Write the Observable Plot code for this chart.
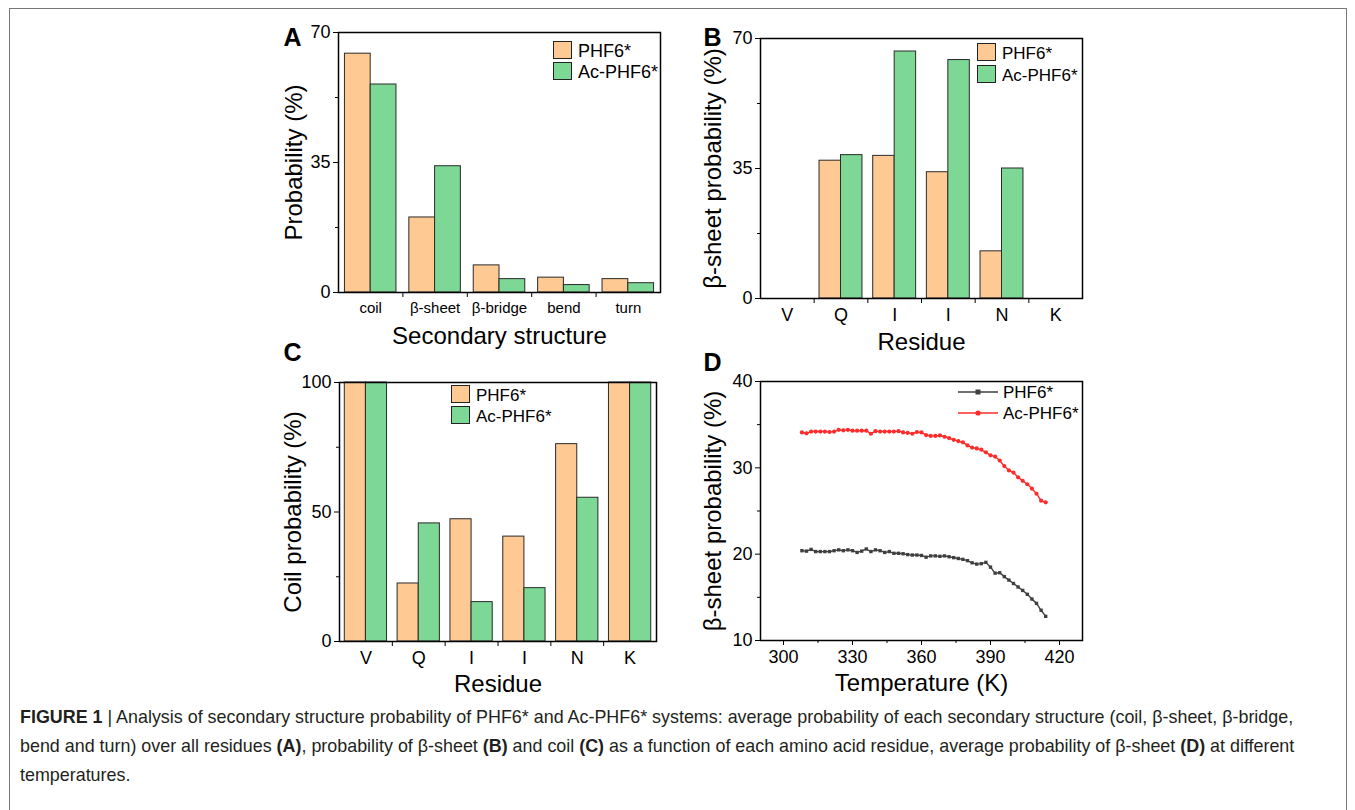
<!DOCTYPE html>
<html><head><meta charset="utf-8">
<script src="https://cdn.jsdelivr.net/npm/d3@7"></script>
<script src="https://cdn.jsdelivr.net/npm/@observablehq/plot@0.6"></script>
<style>
html,body{margin:0;padding:0;background:#fff;}
body{font-family:"Liberation Sans",Arial,Helvetica,sans-serif;color:#000;}
#page{position:relative;width:1355px;height:810px;overflow:hidden;background:#fff;}
.border{position:absolute;left:9px;top:8px;width:1336px;height:830px;border:1px solid #777;}
.panel{position:absolute;}
.sw{position:absolute;box-sizing:border-box;border:1px solid #222;}
.lt{position:absolute;transform:translateY(-50%);white-space:nowrap;line-height:1;}
#caption{position:absolute;left:20px;top:703px;width:1325px;font-size:17.9px;line-height:29px;color:#231f20;white-space:nowrap;}
</style>
</head><body>
<div id="page">
  <div class="border"></div>
  <div id="pA" class="panel" style="left:260px;top:0px"></div>
  <div id="pB" class="panel" style="left:680px;top:0px"></div>
  <div id="pC" class="panel" style="left:260px;top:340px"></div>
  <div id="pD" class="panel" style="left:680px;top:340px"></div>
  <div id="legends"></div>
  <div id="caption"><b>FIGURE 1</b> | Analysis of secondary structure probability of PHF6* and Ac-PHF6* systems: average probability of each secondary structure (coil, β-sheet, β-bridge,<br>bend and turn) over all residues <b>(A)</b>, probability of β-sheet <b>(B)</b> and coil <b>(C)</b> as a function of each amino acid residue, average probability of β-sheet <b>(D)</b> at different<br>temperatures.</div>
</div>
<script>
// ---------------- data ----------------
const seriesNames = ["PHF6*", "Ac-PHF6*"];

// Panel A
const structCats = ["coil", "β-sheet", "β-bridge", "bend", "turn"];
const structPHF6 = [64.3, 20.2, 7.3, 4.0, 3.6];
const structAc   = [56.0, 34.0, 3.6, 2.0, 2.5];

// Panels B & C
const residues  = ["V", "Q", "I", "I", "N", "K"];
const sheetPHF6 = [0, 37.1, 38.4, 34.0, 12.7, 0];
const sheetAc   = [0, 38.6, 66.5, 64.2, 35.0, 0];
const coilPHF6  = [100, 22.4, 47.2, 40.5, 76.2, 100];
const coilAc    = [100, 45.6, 15.2, 20.6, 55.5, 100];

// Panel D
const temps = [308,310,312,314,316,318,320,322,324,326,328,330,332,334,336,338,340,342,344,346,348,350,352,354,356,358,360,362,364,366,368,370,372,374,376,378,380,382,384,386,388,390,392,394,396,398,400,402,404,406,408,410,412,414];
const tempPHF6 = [20.4,20.35,20.55,20.3,20.3,20.3,20.3,20.4,20.5,20.4,20.5,20.4,20.2,20.35,20.6,20.3,20.5,20.4,20.2,20.3,20.1,20.1,20.05,19.95,19.9,19.9,19.85,19.65,19.8,19.8,19.75,
  19.8,19.7,19.6,19.5,19.4,19.25,19.0,18.85,18.9,19.05,18.5,17.8,17.85,17.4,17.0,16.6,16.2,15.8,15.35,14.8,14.3,13.5,12.8];
const tempAc = [34.1,34.0,34.2,34.2,34.2,34.2,34.15,34.2,34.4,34.35,34.4,34.3,34.3,34.3,34.3,33.95,34.25,34.2,34.2,34.2,34.2,34.25,34.1,34.05,33.95,34.15,34.1,33.8,33.7,33.7,33.75,
  33.6,33.45,33.25,33.1,32.95,32.6,32.35,32.25,32.1,31.8,31.45,31.3,30.85,30.2,29.7,29.45,28.9,28.5,28.1,27.6,27.0,26.2,26.0];

const tickA = [0, 35, 70], minorA = [17.5, 52.5];
const tickC = [0, 50, 100], minorC = [25, 75];
const tickDx = [300, 330, 360, 390, 420], minorDx = [315, 345, 375, 405];
const tickDy = [10, 20, 30, 40], minorDy = [15, 25, 35];

// ---------------- style ----------------
const ORANGE = "#FFC994", GREEN = "#7DD795", BARSTROKE = "#2a2a2a";
const GRAY = "#3f3f3f", RED = "#FF2B2B";
const FONT = "'Liberation Sans', Arial, Helvetica, sans-serif";

function titles(xTitle, yTitle, xtdy, ytdx, letter, ldx, ldy) {
  return [
    Plot.text([xTitle], {frameAnchor: "bottom", dy: xtdy, fontSize: 24, textAnchor: "middle", lineAnchor: "middle"}),
    Plot.text([yTitle], {frameAnchor: "left", dx: ytdx, rotate: -90, fontSize: 24, textAnchor: "middle", lineAnchor: "middle"}),
    Plot.text([letter], {frameAnchor: "top-left", dx: ldx, dy: ldy, fontSize: 25, fontWeight: "bold", textAnchor: "start", lineAnchor: "bottom"})
  ];
}

function barPanel(o) {
  const n = o.cats.length;
  const rows = o.cats.map((c, i) => ({i, c, a: o.a[i], b: o.b[i]}));
  const idx = o.cats.map((_, i) => i);
  const bounds = idx.slice(1).map(i => i - 0.5);
  return Plot.plot({
    width: o.width, height: o.height,
    marginLeft: o.ml, marginRight: o.mr, marginTop: o.mt, marginBottom: o.mb,
    style: {background: "transparent", overflow: "visible", fontFamily: FONT, color: "#000"},
    x: {type: "linear", domain: [-0.5, n - 0.5]},
    y: {domain: [0, o.yMax]},
    marks: [
      Plot.rectY(rows.filter(d => d.a > 0), {x1: d => d.i - 0.4, x2: d => d.i, y: "a", fill: ORANGE, stroke: BARSTROKE, strokeWidth: 1}),
      Plot.rectY(rows.filter(d => d.b > 0), {x1: d => d.i, x2: d => d.i + 0.4, y: "b", fill: GREEN, stroke: BARSTROKE, strokeWidth: 1}),
      Plot.frame({stroke: "#000", strokeWidth: 1.5}),
      Plot.axisY({ticks: o.yTicks, tickSize: 5, tickPadding: 3, fontSize: 18, label: null}),
      Plot.axisY({ticks: o.yMinor, tickSize: 3, tickFormat: () => "", label: null}),
      Plot.axisX({ticks: idx, tickFormat: i => o.cats[i], tickSize: 0, tickPadding: 10, fontSize: o.xfs, label: null}),
      Plot.axisX({ticks: bounds, tickSize: 5, tickFormat: () => "", label: null}),
      ...titles(o.xTitle, o.yTitle, o.xtdy, o.ytdx, o.letter, o.ldx, o.ldy)
    ]
  });
}

document.getElementById("pA").append(barPanel({
  cats: structCats, a: structPHF6, b: structAc, yMax: 70, yTicks: tickA, yMinor: minorA,
  width: 420, height: 360, ml: 78, mr: 20, mt: 32, mb: 68, xfs: 15,
  xTitle: "Secondary structure", yTitle: "Probability (%)", xtdy: 44, ytdx: -44,
  letter: "A", ldx: -55, ldy: 13
}));
document.getElementById("pB").append(barPanel({
  cats: residues, a: sheetPHF6, b: sheetAc, yMax: 70, yTicks: tickA, yMinor: minorA,
  width: 420, height: 360, ml: 80, mr: 18, mt: 38, mb: 62, xfs: 18,
  xTitle: "Residue", yTitle: "β-sheet probability (%)", xtdy: 44, ytdx: -47,
  letter: "B", ldx: -57, ldy: 7
}));
document.getElementById("pC").append(barPanel({
  cats: residues, a: coilPHF6, b: coilAc, yMax: 100, yTicks: tickC, yMinor: minorC,
  width: 420, height: 370, ml: 79, mr: 24, mt: 42, mb: 69, xfs: 18,
  xTitle: "Residue", yTitle: "Coil probability (%)", xtdy: 43, ytdx: -46,
  letter: "C", ldx: -56, ldy: -22
}));

// Panel D
const rowsP = temps.map((t, i) => ({t, v: tempPHF6[i]}));
const rowsA = temps.map((t, i) => ({t, v: tempAc[i]}));
document.getElementById("pD").append(Plot.plot({
  width: 420, height: 370, marginLeft: 80, marginRight: 18, marginTop: 41, marginBottom: 70,
  style: {background: "transparent", overflow: "visible", fontFamily: FONT, color: "#000"},
  x: {domain: [290, 430]},
  y: {domain: [10, 40]},
  marks: [
    Plot.line(rowsP, {x: "t", y: "v", stroke: GRAY, strokeWidth: 1.4}),
    Plot.dot(rowsP, {x: "t", y: "v", symbol: "square", r: 1.9, fill: GRAY}),
    Plot.line(rowsA, {x: "t", y: "v", stroke: RED, strokeWidth: 1.4}),
    Plot.dot(rowsA, {x: "t", y: "v", r: 2.1, fill: RED}),
    Plot.frame({stroke: "#000", strokeWidth: 1.5}),
    Plot.axisY({ticks: tickDy, tickSize: 5, tickPadding: 3, fontSize: 18, label: null}),
    Plot.axisY({ticks: minorDy, tickSize: 3, tickFormat: () => "", label: null}),
    Plot.axisX({ticks: tickDx, tickSize: 5, tickPadding: 5, fontSize: 18, label: null}),
    Plot.axisX({ticks: minorDx, tickSize: 3, tickFormat: () => "", label: null}),
    ...titles("Temperature (K)", "β-sheet probability (%)", 43, -47, "D", -57, -11)
  ]
}));

// ---------------- legends (HTML) ----------------
const L = document.getElementById("legends");
function barLegend(left, top, pitch, sw, fs) {
  [ORANGE, GREEN].forEach((c, k) => {
    const y = top + k * pitch;
    const s = document.createElement("div");
    s.className = "sw";
    Object.assign(s.style, {left: left + "px", top: y + "px", width: sw + "px", height: (sw - 1) + "px", background: c});
    L.append(s);
    const t = document.createElement("div");
    t.className = "lt";
    t.textContent = seriesNames[k];
    Object.assign(t.style, {left: (left + sw + 6) + "px", top: (y + sw / 2) + "px", fontSize: fs + "px"});
    L.append(t);
  });
}
barLegend(553, 41, 21, 19, 18);
barLegend(977, 43, 22, 19, 17);
barLegend(451, 385, 21, 19, 17);

function lineLegend(left, top, pitch, fs) {
  [[GRAY, "square"], [RED, "circle"]].forEach(([c, sym], k) => {
    const y = top + k * pitch;
    const svg = document.createElementNS("http://www.w3.org/2000/svg", "svg");
    svg.setAttribute("width", 42); svg.setAttribute("height", 10);
    Object.assign(svg.style, {position: "absolute", left: left + "px", top: (y - 5) + "px"});
    svg.innerHTML = `<line x1="0" y1="5" x2="40" y2="5" stroke="${c}" stroke-width="1.4"/>` +
      (sym === "square" ? `<rect x="17.5" y="2.5" width="5" height="5" fill="${c}"/>` : `<circle cx="20" cy="5" r="2.6" fill="${c}"/>`);
    L.append(svg);
    const t = document.createElement("div");
    t.className = "lt";
    t.textContent = seriesNames[k];
    Object.assign(t.style, {left: (left + 45) + "px", top: y + "px", fontSize: fs + "px"});
    L.append(t);
  });
}
lineLegend(958, 392, 21, 17);
</script>
</body></html>
